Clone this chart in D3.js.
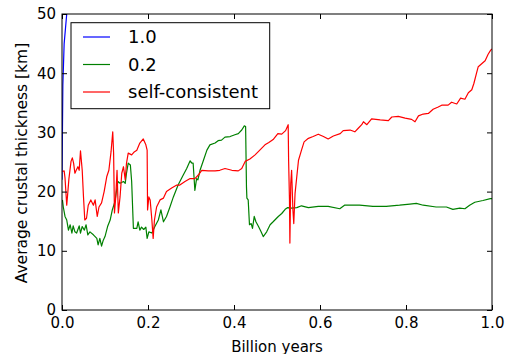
<!DOCTYPE html>
<html>
<head>
<meta charset="utf-8">
<script src="https://cdn.jsdelivr.net/npm/d3@7"></script>
<style>
  html, body { margin: 0; padding: 0; background: #fff; overflow: hidden; }
  svg { display: block; font-family: "DejaVu Sans", sans-serif; }
</style>
</head>
<body>
<svg id="chart" width="506" height="354"></svg>
<script>
// Average crustal thickness over time for three runs: [billion years, km]
const seriesNames = ["1.0", "0.2", "self-consistent"];
const seriesColors = ["#0000ff", "#008000", "#ff0000"];

const bluePoints = [
  [0.000, 22.0], [0.002, 38.0], [0.005, 45.0], [0.011, 50.0], [0.020, 56.0]
];

const greenPoints = [
  [0.001, 18.6], [0.003, 17.4], [0.007, 15.8], [0.011, 15.2], [0.015, 13.5],
  [0.019, 14.4], [0.023, 13.0], [0.026, 14.2], [0.030, 13.2], [0.034, 13.0],
  [0.040, 14.2], [0.043, 13.0], [0.047, 14.1], [0.052, 13.5], [0.056, 14.4],
  [0.060, 12.7], [0.065, 13.2], [0.073, 12.7], [0.081, 12.1], [0.084, 11.0],
  [0.088, 12.1], [0.092, 10.8], [0.096, 11.8], [0.100, 12.4], [0.106, 14.1],
  [0.112, 15.2], [0.117, 16.9], [0.123, 18.3], [0.130, 21.7], [0.135, 21.4],
  [0.143, 21.7], [0.147, 21.4], [0.150, 23.1], [0.154, 24.8], [0.159, 24.5],
  [0.162, 21.7], [0.166, 13.8], [0.174, 13.8], [0.177, 14.9], [0.181, 13.5],
  [0.185, 14.0], [0.190, 13.6], [0.195, 14.0], [0.198, 12.1], [0.202, 13.2],
  [0.209, 13.0], [0.216, 14.1], [0.224, 15.2], [0.230, 16.9], [0.236, 14.9],
  [0.243, 15.8], [0.251, 17.4], [0.259, 19.1], [0.270, 21.1], [0.282, 22.8],
  [0.290, 23.9], [0.298, 25.2], [0.302, 24.8], [0.305, 24.8], [0.309, 20.2],
  [0.313, 22.2], [0.316, 22.0], [0.321, 23.6], [0.329, 25.3], [0.337, 27.0],
  [0.344, 27.9], [0.356, 28.2], [0.363, 28.6], [0.371, 28.7], [0.379, 29.2],
  [0.391, 29.3], [0.402, 29.6], [0.410, 29.8], [0.418, 30.4], [0.424, 31.1],
  [0.427, 31.0], [0.429, 20.8], [0.430, 18.9], [0.433, 18.6], [0.436, 14.4],
  [0.440, 14.6], [0.443, 13.8], [0.447, 15.8], [0.451, 14.9], [0.457, 14.1],
  [0.463, 13.2], [0.468, 12.4], [0.476, 13.2], [0.484, 14.4], [0.491, 14.9],
  [0.495, 15.2], [0.503, 15.8], [0.511, 16.3], [0.519, 17.0], [0.525, 17.3],
  [0.534, 17.2], [0.546, 17.3], [0.557, 17.6], [0.573, 17.3], [0.596, 17.5],
  [0.619, 17.5], [0.646, 17.1], [0.657, 17.7], [0.692, 17.7], [0.723, 17.5],
  [0.754, 17.5], [0.785, 17.7], [0.809, 17.9], [0.824, 18.0], [0.840, 17.7],
  [0.870, 17.4], [0.894, 17.4], [0.909, 17.0], [0.925, 17.2], [0.937, 17.1],
  [0.948, 17.7], [0.960, 18.2], [0.979, 18.5], [0.996, 18.8], [1.000, 18.8]
];

const redPoints = [
  [0.001, 23.4], [0.005, 23.5], [0.007, 22.3], [0.011, 17.7], [0.013, 19.4],
  [0.016, 22.1], [0.021, 25.1], [0.024, 25.7], [0.027, 24.8], [0.030, 23.1],
  [0.033, 23.6], [0.037, 24.2], [0.040, 23.6], [0.043, 26.9], [0.047, 23.6],
  [0.050, 19.1], [0.053, 15.2], [0.057, 15.5], [0.061, 17.7], [0.067, 18.6],
  [0.073, 17.7], [0.077, 18.6], [0.082, 15.8], [0.086, 17.4], [0.092, 18.1],
  [0.098, 20.0], [0.104, 22.5], [0.109, 23.6], [0.114, 26.7], [0.118, 30.1],
  [0.120, 26.5], [0.122, 16.4], [0.125, 19.1], [0.128, 23.6], [0.131, 16.4],
  [0.135, 19.1], [0.139, 23.1], [0.143, 24.2], [0.147, 22.0], [0.150, 24.8],
  [0.154, 26.5], [0.162, 26.2], [0.168, 26.7], [0.174, 27.0], [0.181, 28.2],
  [0.189, 28.9], [0.195, 27.9], [0.198, 27.0], [0.199, 16.9], [0.202, 19.1],
  [0.205, 18.6], [0.209, 15.2], [0.212, 12.1], [0.215, 15.2], [0.220, 17.4],
  [0.228, 18.6], [0.236, 18.9], [0.243, 20.0], [0.255, 20.6], [0.267, 21.1],
  [0.274, 21.1], [0.286, 21.7], [0.298, 22.2], [0.309, 22.2], [0.317, 22.8],
  [0.325, 23.6], [0.340, 23.5], [0.356, 23.5], [0.367, 23.6], [0.379, 23.9],
  [0.395, 23.6], [0.410, 23.5], [0.418, 23.9], [0.426, 25.1], [0.437, 25.5],
  [0.449, 26.2], [0.460, 27.0], [0.472, 27.9], [0.481, 28.3], [0.491, 28.8],
  [0.502, 29.8], [0.511, 29.7], [0.520, 30.3], [0.526, 31.3], [0.527, 25.3],
  [0.529, 18.6], [0.530, 11.3], [0.532, 21.4], [0.534, 23.6], [0.537, 16.9],
  [0.539, 14.6], [0.542, 19.7], [0.546, 22.5], [0.550, 25.3], [0.557, 27.0],
  [0.563, 28.4], [0.573, 29.0], [0.584, 29.3], [0.596, 29.7], [0.608, 29.3],
  [0.619, 28.9], [0.631, 29.4], [0.647, 29.8], [0.654, 30.3], [0.670, 30.4],
  [0.681, 30.1], [0.689, 30.7], [0.697, 31.3], [0.701, 31.8], [0.709, 31.3],
  [0.720, 32.3], [0.740, 32.1], [0.759, 32.0], [0.767, 32.6], [0.782, 32.7],
  [0.798, 32.4], [0.813, 32.2], [0.821, 31.8], [0.829, 32.8], [0.840, 33.1],
  [0.852, 33.2], [0.863, 33.9], [0.875, 34.3], [0.883, 34.6], [0.898, 34.6],
  [0.906, 35.1], [0.918, 34.8], [0.927, 35.8], [0.937, 35.6], [0.945, 36.7],
  [0.953, 37.2], [0.958, 38.3], [0.964, 40.0], [0.968, 41.1], [0.976, 41.6],
  [0.984, 42.1], [0.991, 43.2], [0.997, 43.9], [1.000, 44.1]
];

const xTicks = [0.0, 0.2, 0.4, 0.6, 0.8, 1.0];
const yTicks = [0, 10, 20, 30, 40, 50];
const xLabel = "Billion years";
const yLabel = "Average crustal thickness [km]";

const svg = d3.select("#chart");
const margin = { left: 62, right: 14, top: 14, bottom: 44 };
const W = 506, H = 354;
const plotW = W - margin.left - margin.right;   // 430
const plotH = H - margin.top - margin.bottom;   // 296

const x = d3.scaleLinear().domain([0, 1]).range([0, plotW]);
const y = d3.scaleLinear().domain([0, 50]).range([plotH, 0]);

const g = svg.append("g").attr("transform", `translate(${margin.left},${margin.top})`);

g.append("clipPath").attr("id", "plot-clip")
  .append("rect").attr("width", plotW).attr("height", plotH);

// Lines, drawn in series order so the later runs sit on top
const line = d3.line().x(d => x(d[0])).y(d => y(d[1]));
const allSeries = [bluePoints, greenPoints, redPoints];
const lines = g.append("g").attr("clip-path", "url(#plot-clip)");
allSeries.forEach((pts, i) => {
  lines.append("path")
    .datum(pts)
    .attr("d", line)
    .attr("fill", "none")
    .attr("stroke", seriesColors[i])
    .attr("stroke-width", 1.2)
    .attr("stroke-linejoin", "round");
});

// Axes with inward ticks on all four sides
const tickFont = 15;
function styleAxis(sel) {
  sel.select(".domain").remove();
  sel.selectAll(".tick line").attr("stroke", "#000").attr("stroke-width", 1);
  sel.selectAll(".tick text")
    .attr("fill", "#000")
    .style("font-size", tickFont + "px")
    .style("font-family", "'DejaVu Sans', sans-serif");
}

g.append("g").attr("transform", `translate(0,${plotH})`)
  .call(d3.axisBottom(x).tickValues(xTicks).tickFormat(d3.format(".1f"))
    .tickSizeInner(-5).tickSizeOuter(0).tickPadding(7))
  .call(styleAxis);

g.append("g")
  .call(d3.axisTop(x).tickValues(xTicks).tickFormat("")
    .tickSizeInner(-5).tickSizeOuter(0))
  .call(styleAxis);

g.append("g")
  .call(d3.axisLeft(y).tickValues(yTicks).tickFormat(d3.format("d"))
    .tickSizeInner(-5).tickSizeOuter(0).tickPadding(6))
  .call(styleAxis);

g.append("g").attr("transform", `translate(${plotW},0)`)
  .call(d3.axisRight(y).tickValues(yTicks).tickFormat("")
    .tickSizeInner(-5).tickSizeOuter(0))
  .call(styleAxis);

// Frame
g.append("rect")
  .attr("width", plotW).attr("height", plotH)
  .attr("fill", "none").attr("stroke", "#000").attr("stroke-width", 1);

// Axis titles
g.append("text")
  .attr("x", plotW / 2).attr("y", plotH + 42)
  .attr("text-anchor", "middle")
  .style("font-size", "15px")
  .text(xLabel);

g.append("text")
  .attr("transform", `translate(${-35},${plotH / 2 + 1}) rotate(-90)`)
  .attr("text-anchor", "middle")
  .style("font-size", "15.5px")
  .text(yLabel);

// Legend
const legendFont = 18;
const legend = g.append("g").attr("transform", "translate(9,8.7)");
legend.append("rect")
  .attr("width", 198.7).attr("height", 86)
  .attr("fill", "#fff").attr("stroke", "#000").attr("stroke-width", 1);
seriesNames.forEach((name, i) => {
  const cy = 14.3 + i * 27.5;
  legend.append("line")
    .attr("x1", 12).attr("x2", 39).attr("y1", cy).attr("y2", cy)
    .attr("stroke", seriesColors[i]).attr("stroke-width", 1.2);
  legend.append("text")
    .attr("x", 57).attr("y", cy + legendFont * 0.36)
    .style("font-size", legendFont + "px")
    .text(name);
});
</script>
</body>
</html>
